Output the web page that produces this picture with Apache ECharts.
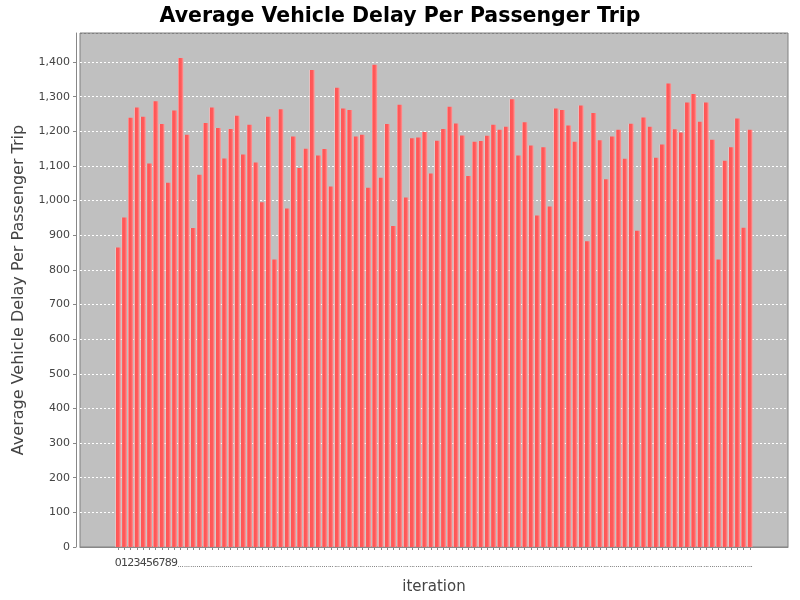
<!DOCTYPE html>
<html>
  <head>
    <meta charset="utf-8">
    <title>Average Vehicle Delay</title>
    <script src="https://cdn.jsdelivr.net/npm/echarts@6/dist/echarts.min.js"></script>
    <style>
      html, body { margin: 0; padding: 0; background: #fff; }
    </style>
  </head>
  <body>
    <div id="main" style="width: 800px;height:600px;"></div>
    <script type="text/javascript">
      // iterations 0..101
      var delays = [
        865, 951, 1239, 1269, 1242, 1107, 1287, 1221, 1052, 1260,
        1412, 1190, 921, 1075, 1224, 1269, 1210, 1122, 1207, 1245,
        1133, 1219, 1110, 995, 1242, 830, 1264, 977, 1185, 1094,
        1150, 1377, 1130, 1149, 1041, 1326, 1266, 1262, 1185, 1190,
        1037, 1392, 1066, 1221, 927, 1277, 1009, 1180, 1182, 1198,
        1078, 1173, 1207, 1271, 1223, 1188, 1071, 1170, 1172, 1187,
        1219, 1205, 1213, 1293, 1130, 1226, 1159, 957, 1154, 983,
        1266, 1262, 1217, 1170, 1275, 883, 1253, 1174, 1062, 1185,
        1205, 1121, 1222, 913, 1240, 1213, 1124, 1162, 1338, 1206,
        1197, 1283, 1308, 1228, 1283, 1176, 830, 1115, 1154, 1237,
        922, 1205
      ];
      var iterations = delays.map(function (v, i) { return String(i) });

      var titleText = 'Average Vehicle Delay Per Passenger Trip';
      var yName = 'Average Vehicle Delay Per Passenger Trip';
      var xName = 'iteration';

      var yMax = 1484;
      // gridline colours: first/last lines sit on the plot outline
      var gridColors = [];
      for (var k = 0; k < 16; k++) gridColors.push(k === 0 || k === 15 ? '#808080' : '#ffffff');

      var myChart = echarts.init(document.getElementById('main'));

      var option = {
        animation: false,
        title: {
          text: titleText,
          left: 'center',
          top: 1,
          textStyle: {
            fontFamily: 'DejaVu Sans',
            fontWeight: 'bold',
            fontSize: 20.5,
            color: '#000'
          }
        },
        grid: [
          // plot background, y axis and gridlines
          {
            left: 80, right: 12, top: 33, bottom: 53,
            outerBoundsMode: 'none',
            show: true,
            backgroundColor: '#c0c0c0',
            borderColor: '#808080',
            borderWidth: 1
          },
          // bars, with category margins like the original
          { left: 115, right: 47, top: 33, bottom: 53, outerBoundsMode: 'none' }
        ],
        xAxis: [
          {
            gridIndex: 0,
            type: 'category',
            data: [''],
            offset: 4,
            name: xName,
            nameLocation: 'middle',
            nameGap: 29,
            nameTextStyle: { fontFamily: 'DejaVu Sans', fontSize: 15, color: '#444' },
            axisLine: { lineStyle: { color: '#888' } },
            axisTick: { show: false },
            axisLabel: { show: false },
            splitLine: { show: false }
          },
          {
            gridIndex: 1,
            type: 'category',
            data: iterations,
            offset: 4,
            axisLine: { show: false },
            axisTick: { show: true, alignWithLabel: true, length: 3, lineStyle: { color: '#888' } },
            axisLabel: {
              interval: 0,
              margin: 7,
              fontFamily: 'DejaVu Sans',
              fontSize: 11,
              color: '#444',
              formatter: function (v) {
                return Number(v) < 10 ? v : '{d|...}'
              },
              rich: { d: { fontSize: 6, color: '#000', fontFamily: 'DejaVu Sans', padding: [4, 0, 0, 0] } }
            },
            splitLine: { show: false }
          }
        ],
        yAxis: [
          {
            gridIndex: 0,
            type: 'value',
            min: 0,
            max: yMax,
            interval: 100,
            offset: 4,
            name: yName,
            nameLocation: 'middle',
            nameGap: 49,
            nameTextStyle: { fontFamily: 'DejaVu Sans', fontSize: 16, color: '#444' },
            axisLine: { show: true, lineStyle: { color: '#888' } },
            axisTick: { show: true, length: 3, lineStyle: { color: '#888' } },
            axisLabel: {
              showMaxLabel: false,
              margin: 6,
              fontFamily: 'DejaVu Sans',
              fontSize: 11,
              color: '#444',
              formatter: function (v) {
                return v % 100 === 0 ? v.toLocaleString('en-US') : ''
              }
            },
            splitLine: { lineStyle: { color: gridColors, type: [2, 2], width: 1 } }
          },
          {
            gridIndex: 1,
            type: 'value',
            min: 0,
            max: yMax,
            interval: 100,
            show: false,
            splitLine: { show: false }
          }
        ],
        series: [{
          type: 'bar',
          xAxisIndex: 1,
          yAxisIndex: 1,
          data: delays,
          barCategoryGap: '16%',
          itemStyle: {
            color: new echarts.graphic.LinearGradient(0, 0, 1, 0, [
              { offset: 0, color: '#ffd0d0' },
              { offset: 0.16, color: '#ff5555' },
              { offset: 0.6, color: '#ff5a5a' },
              { offset: 1, color: '#ff9a9a' }
            ])
          }
        }]
      };

      myChart.setOption(option);
    </script>
  </body>
</html>
